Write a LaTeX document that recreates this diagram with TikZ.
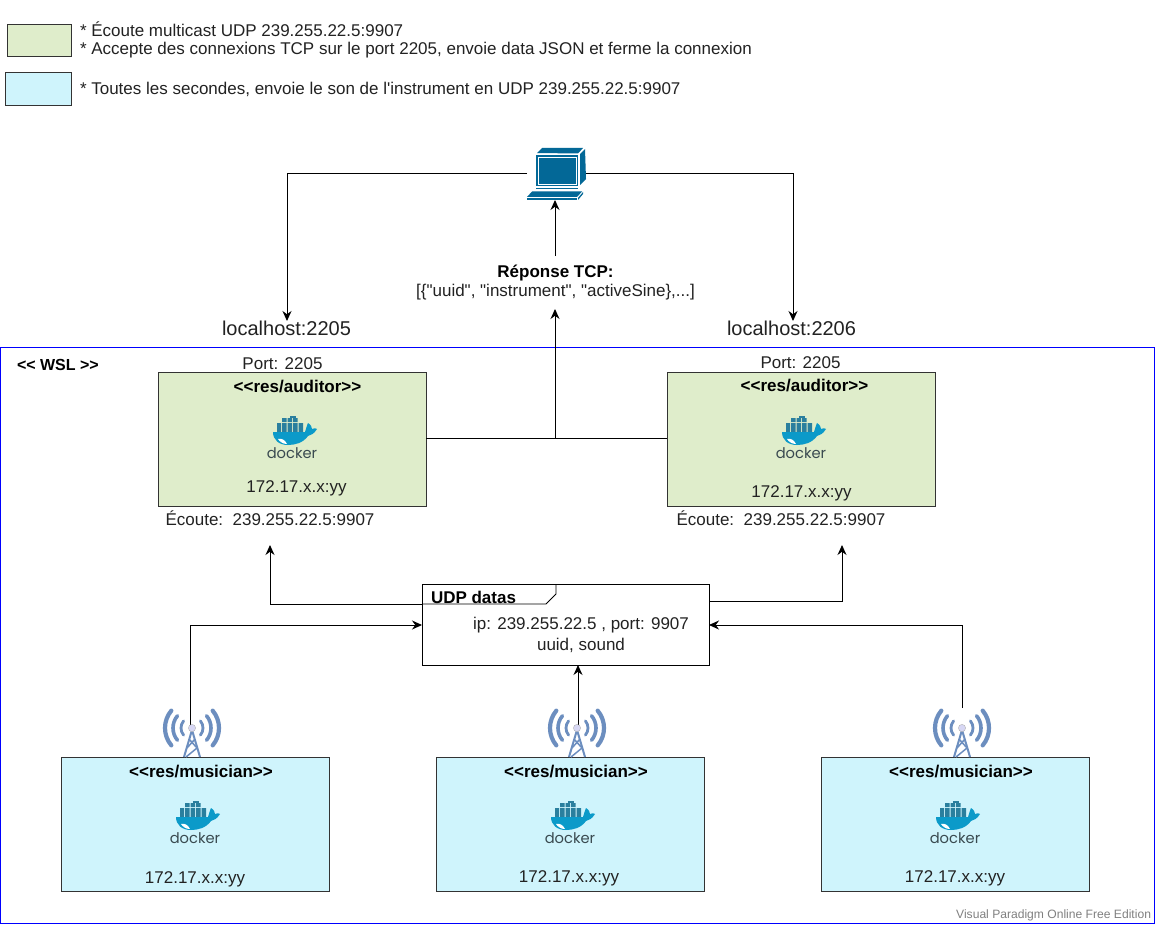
\documentclass[tikz,border=0pt]{standalone}
\usepackage{fontspec}
\setmainfont{Liberation Sans}
\newfontfamily\rawf{Liberation Sans}
\newfontfamily\dockerf{Poppins}
\usetikzlibrary{arrows.meta,calc}
\definecolor{gfill}{HTML}{DFEDCB}
\definecolor{cfill}{HTML}{CFF4FC}
\definecolor{pcblue}{HTML}{036897}
\definecolor{towerblue}{HTML}{6C8EBF}
\definecolor{dkblue}{HTML}{0B9AC9}
\definecolor{dkdark}{HTML}{2A7F9E}
\definecolor{dktext}{HTML}{3A4A50}
\definecolor{txt}{HTML}{222222}
\newcommand{\fs}[1]{\fontsize{#1}{#1}\selectfont}
\tikzset{
  x=1pt,y=-1pt,
  every node/.style={inner sep=0pt,outer sep=0pt,text=txt},
  box/.style={draw=black!80,line width=0.8pt,minimum width=268pt,minimum height=134pt,anchor=north west},
  aud/.style={box,fill=gfill},
  mus/.style={box,fill=cfill},
  lbl/.style={font=\fs{17},anchor=center},
  title/.style={font=\fs{17}\bfseries,text=black,anchor=center},
  leg/.style={font=\fs{17},anchor=west},
  conn/.style={line width=1pt,draw=black,-{Stealth[length=10pt,width=9pt]}},
  plain/.style={line width=1pt,draw=black},
  dockerlogo/.pic={
    \fill[dkdark] (-15,-7) rectangle (-11,2) (-10,-7) rectangle (-5.5,2) (-4.5,-7) rectangle (0,2) (1,-7) rectangle (5.5,2) (6.5,-7) rectangle (11,2);
    \fill[dkdark] (-10,-12) rectangle (-5.5,-8) (-4.5,-12) rectangle (0,-8) (1,-12) rectangle (5.5,-8);
    \fill[dkdark] (-2,-14) rectangle (3.5,-12);
    \fill[dkblue] (-19,2) -- (13,2) .. controls (14,-1) and (15,-5) .. (16,-7) .. controls (19,-5) and (20,-3) .. (20,-1) .. controls (22,-2) and (24,-2) .. (25,-1) .. controls (22,4) and (19,5) .. (16,6) .. controls (11,13) and (3,15) .. (-4,15) .. controls (-13,15) and (-19,10) .. (-19,2) -- cycle;
    \fill[white] (-14,9) .. controls (-10,8) and (-7,10) .. (-5,14) .. controls (-9,14) and (-12,12) .. (-14,9) -- cycle;
    \node[font=\dockerf\fs{14.7},text=dktext] at (0,23.5) {docker};
  },
  pcicon/.pic={
    \fill[pcblue] (-19,-22) -- (-14,-27) -- (27,-27) -- (22,-21.5) -- cycle;
    \fill[pcblue] (-20,-20) rectangle (22,11);
    \draw[white,line width=0.8pt] (-18,-18) rectangle (20,9);
    \fill[pcblue] (-16,-16) rectangle (18,7);
    \fill[pcblue] (24,-21) -- (29,-26) -- (30,4) -- (24,10) -- cycle;
    \fill[pcblue] (-20,13) rectangle (22,14.5);
    \fill[pcblue] (-29,22) -- (-24,16.5) -- (26,16.5) -- (21,22) -- cycle;
    \fill[pcblue] (-29,23) -- (21,23) -- (21,25) -- (-29,25) -- cycle;
    \fill[pcblue] (22,25) -- (27,19) -- (27,17) -- (22,23) -- cycle;
  },
  towericon/.pic={
    \draw[towerblue,line width=2pt] (0,2) -- (-8,29) (0,2) -- (8,29);
    \draw[towerblue,line width=1.5pt] (-3,11) -- (5,20) -- (-6,29) (3,11) -- (-5,20);
    \foreach \r/\w in {11/2.8,19/3.6,27/4.2}{
      \draw[towerblue,line width=\w pt,line cap=round] (140:\r) arc[start angle=140,end angle=220,radius=\r];
      \draw[towerblue,line width=\w pt,line cap=round] (40:\r) arc[start angle=40,end angle=-40,radius=\r];
    }
  },
  towerdot/.pic={\fill[gray!45!blue!20!white] (0,0) circle (3.6);\draw[gray!60,line width=.4pt] (0,0) circle (3.6);}
}
\begin{document}
\begin{tikzpicture}
\useasboundingbox (0,0) rectangle (1155,925);
\fill[white] (0,0) rectangle (1155,925);

% legend
\node[draw=black!80,line width=.8pt,fill=gfill,minimum width=64pt,minimum height=32pt,anchor=north west] (leggreen) at (7,24) {};
\node[draw=black!80,line width=.8pt,fill=cfill,minimum width=66pt,minimum height=33pt,anchor=north west] (legcyan) at (5,72) {};
\node[leg] (l1) at (80,29.5) {* Écoute multicast UDP 239.255.22.5:9907};
\node[leg] (l2) at (80,50) {* Accepte des connexions TCP sur le port 2205, envoie data JSON et ferme la connexion};
\node[leg] (l3) at (80,89) {\rawf * Toutes les secondes, envoie le son de l'instrument en UDP 239.255.22.5:9907};

% WSL
\node[draw=blue,line width=1pt,minimum width=1154.5pt,minimum height=576pt,anchor=north west] (wsl) at (0.2,347) {};
\node[title,anchor=west,font=\fs{16}\bfseries] (wsllabel) at (17,365) {<{}< WSL >{}>};

% boxes
\node[aud] (a1) at (158,372) {};
\node[aud] (a2) at (667,372) {};
\node[mus] (m1) at (61,757) {};
\node[mus] (m2) at (436,757) {};
\node[mus] (m3) at (821,757) {};

\foreach \n/\x/\y in {a1/292/430,a2/801/430,m1/195/815,m2/570/815,m3/955/815}{
  \pic at (\x,\y) {dockerlogo};
}
\node[title] (a1t) at (297.5,387) {<{}<res/auditor>{}>};
\node[title] (a2t) at (804.5,386) {<{}<res/auditor>{}>};
\node[title] (m1t) at (201,772) {<{}<res/musician>{}>};
\node[title] (m2t) at (576,772) {<{}<res/musician>{}>};
\node[title] (m3t) at (961,772) {<{}<res/musician>{}>};
\node[lbl] (a1p) at (282.5,363.5) {Port: 2205};
\node[lbl] (a2p) at (800.5,362.5) {Port: 2205};
\node[lbl] (a1i) at (296.5,488) {172.17.x.x:yy};
\node[lbl] (a2i) at (801.5,493) {172.17.x.x:yy};
\node[lbl] (a1e) at (270,518.5) {Écoute:\ \ 239.255.22.5:9907};
\node[lbl] (a2e) at (781,518.5) {Écoute:\ \ 239.255.22.5:9907};
\node[lbl] (m1i) at (195,879) {172.17.x.x:yy};
\node[lbl] (m2i) at (569,878) {172.17.x.x:yy};
\node[lbl] (m3i) at (955,878) {172.17.x.x:yy};

% note
\node[draw=black,line width=.8pt,fill=white,minimum width=287pt,minimum height=81pt,anchor=north west] (note) at (422,584) {};
\draw[line width=.8pt] (note.north west |- 0,604) -- (546,604) -- (556,594) -- (556,584);
\node[title,anchor=west] (notet) at (431,597) {UDP datas};
\node[lbl] (note1) at (581,625.5) {ip: 239.255.22.5 , port: 9907};
\node[lbl] (note2) at (581,645) {uuid, sound};

% localhost, response
\node[font=\fs{20}] (lh1) at (286.5,328.5) {localhost:2205};
\node[font=\fs{20}] (lh2) at (791.5,328.5) {localhost:2206};
\node[font=\fs{17}\bfseries,text=black] (rep) at (555.5,273.5) {Réponse TCP:};
\node[font=\rawf\fs{17}] (rep2) at (555.5,292.5) {[\{"uuid", "instrument", "activeSine\},...]};

% named coordinates
\coordinate (pc) at (556,174);
\coordinate (pcw) at (527,174);
\coordinate (pce) at (586,174);
\coordinate (pcs) at (555,200);
\coordinate (lh1n) at (287,321);
\coordinate (lh2n) at (793,321);
\coordinate (repn) at (555,256);
\coordinate (reps) at (555,309);
\coordinate (junc) at (555,438);
\coordinate (a1e0) at (426,438);
\coordinate (a2w0) at (667,438);
\coordinate (a1b) at (270,545);
\coordinate (a2b) at (842,545);
\coordinate (nw1) at (422,604);
\coordinate (ne1) at (709,601);
\coordinate (nw2) at (422,625);
\coordinate (ne2) at (709,625);
\coordinate (ns) at (578,665);
\coordinate (t1) at (190,728);
\coordinate (t2) at (578,728);
\coordinate (t3) at (962,708);

% connectors
\draw[conn] (pcw) -| (lh1n);
\draw[conn] (pce) -| (lh2n);
\draw[conn] (repn) -- (pcs);
\draw[plain] (a1e0) -- (a2w0);
\draw[conn] (junc) -- (reps);
\draw[conn] (nw1) -| (a1b);
\draw[conn] (ne1) -| (a2b);
\draw[conn] (t1) |- (nw2);
\draw[conn] (t3) |- (ne2);

% icons
\pic at (556,175) {pcicon};
\pic at (192,728) {towericon};
\pic at (577,728) {towericon};
\pic at (962,728) {towericon};
\draw[conn] (t2) -- (ns);
\draw[plain] (t1) -- ++(0,-10);
\pic at (192,728) {towerdot};
\pic at (577,728) {towerdot};
\pic at (962,728) {towerdot};

\node[font=\fs{12.1},text=black!50,anchor=east] (wm) at (1151,915) {Visual Paradigm Online Free Edition};
\end{tikzpicture}
\end{document}
